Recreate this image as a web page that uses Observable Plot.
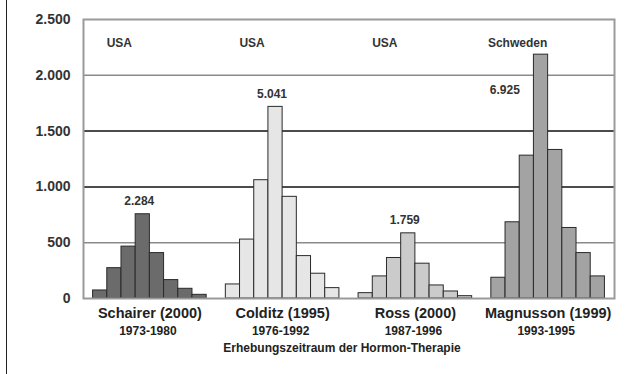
<!DOCTYPE html>
<html>
<head>
<meta charset="utf-8">
<script src="https://cdn.jsdelivr.net/npm/d3@7"></script>
<script src="https://cdn.jsdelivr.net/npm/@observablehq/plot@0.6"></script>
<style>
  html, body { margin: 0; padding: 0; background: #fff; }
  #wrap { position: relative; width: 633px; height: 374px; }
  #edge { position: absolute; left: 6px; top: 0; width: 0; height: 374px; border-left: 1.5px solid #222; }
  svg { display: block; }
</style>
</head>
<body>
<div id="wrap"><div id="edge"></div></div>
<script>
const studies = ["Schairer (2000)", "Colditz (1995)", "Ross (2000)", "Magnusson (1999)"];
const periods = ["1973-1980", "1976-1992", "1987-1996", "1993-1995"];
const countries = ["USA", "USA", "USA", "Schweden"];
const totals = ["2.284", "5.041", "1.759", "6.925"];
const schairer = [72, 272, 465, 755, 407, 165, 87, 33];
const colditz = [126, 528, 1060, 1717, 911, 380, 222, 93];
const ross = [48, 198, 363, 584, 312, 117, 63, 21];
const magnusson = [186, 683, 1280, 2185, 1331, 632, 407, 198];
const fills = ["#6b6b6b", "#e6e6e6", "#cbcbcb", "#a3a3a3"];
const yTicks = [0, 500, 1000, 1500, 2000, 2500];
const axisTitle = "Erhebungszeitraum der Hormon-Therapie";

const series = [schairer, colditz, ross, magnusson];
const GW = 9.35;   // group width in bar units
const OFF = 0.675; // padding before first bar in a group

const bars = series.flatMap((vals, g) => vals.map((v, i) => ({
  g, v, x1: g * GW + OFF + i, x2: g * GW + OFF + i + 1, fill: fills[g]
})));

const groups = studies.map((s, g) => {
  const vals = series[g];
  const peak = vals.indexOf(d3.max(vals));
  const last = g === 3;
  return {
    study: s, period: periods[g], country: countries[g], total: totals[g],
    center: g * GW + GW / 2,
    countryX: g * GW + OFF + 1.85,
    totalX: last ? g * GW + OFF + 0.95 : g * GW + OFF + peak + 0.25,
    totalY: last ? vals[peak] - 432 : vals[peak]
  };
});

const fmt = d => d3.format(",")(d).replace(/,/g, ".");
const font = "Liberation Sans, Arial, sans-serif";

const chart = Plot.plot({
  width: 633,
  height: 374,
  marginLeft: 83,
  marginRight: 19,
  marginTop: 19,
  marginBottom: 76,
  style: { fontFamily: font, background: "#fff" },
  x: { domain: [0, 4 * GW], axis: null },
  y: { domain: [0, 2500], axis: null },
  marks: [
    Plot.ruleY(yTicks.filter(t => t > 0 && t < 2500), {
      stroke: d => (d === 1500 || d === 1000) ? "#111" : "#8a8a8a",
      strokeWidth: 1.5
    }),
    Plot.rectY(bars, {
      x1: "x1", x2: "x2", y: "v", fill: "fill", stroke: "#2a2a2a", strokeWidth: 1
    }),
    Plot.frame({ stroke: "#9a9a9a", strokeWidth: 2 }),
    Plot.text(yTicks, {
      x: 0, y: d => d, text: fmt, textAnchor: "end", dx: -13,
      fontSize: 14, fontWeight: "bold", fill: "#333"
    }),
    Plot.text(groups, {
      x: "countryX", frameAnchor: "top", dy: 19, text: "country",
      fontSize: 12, fontWeight: "bold", fill: "#333"
    }),
    Plot.text(groups, {
      x: "totalX", y: "totalY", dy: -13, text: "total",
      fontSize: 12, fontWeight: "bold", fill: "#333"
    }),
    Plot.text(groups, {
      x: "center", frameAnchor: "bottom", dy: 19, text: "study",
      fontSize: 14.5, fontWeight: "bold", fill: "#222"
    }),
    Plot.text(groups, {
      x: "center", frameAnchor: "bottom", dy: 36, dx: -2, text: "period",
      fontSize: 12, fontWeight: "bold", fill: "#222"
    }),
    Plot.text([axisTitle], {
      x: 2 * GW, frameAnchor: "bottom", dy: 53, dx: -7, text: d => d,
      fontSize: 12, fontWeight: "bold", fill: "#222"
    })
  ]
});
document.getElementById("wrap").appendChild(chart);
</script>
</body>
</html>
